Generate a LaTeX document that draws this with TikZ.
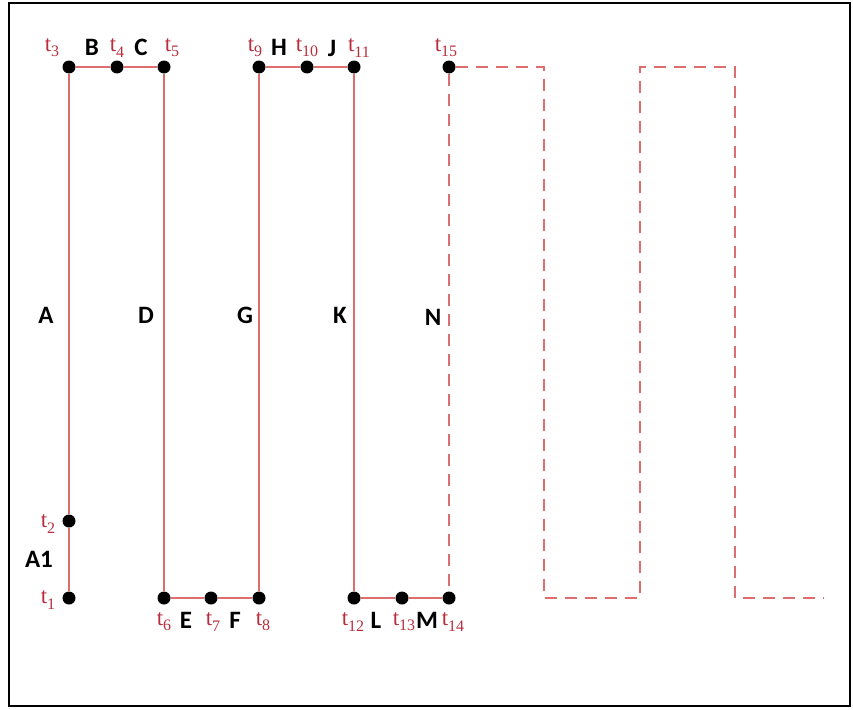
\documentclass[tikz,border=0pt]{standalone}
\usepackage{fontspec}
\setmainfont{Liberation Serif}
\newfontfamily\lblfont{Carlito}
\newcommand{\tsub}[1]{t\raisebox{-0.22em}{\fontsize{16}{16}\selectfont #1}}
\begin{document}
\begin{tikzpicture}[x=1pt,y=-1pt,
  dot/.style={circle,fill=black,inner sep=0pt,minimum size=13pt},
  wire/.style={draw={rgb,255:red,222;green,110;blue,110},line width=1.4pt},
  dwire/.style={wire,dash pattern=on 12pt off 8pt},
  tlbl/.style={text={rgb,255:red,185;green,45;blue,60},font=\fontsize{23}{23}\selectfont,inner sep=0pt},
  seg/.style={font=\lblfont\bfseries\fontsize{25}{25}\selectfont,inner sep=0pt}]
\useasboundingbox (0,0) rectangle (853,709);
\draw[line width=2pt] (9,3) rectangle (850,706);
% dots
\node[dot] (t1) at (69,598) {};
\node[dot] (t2) at (69,521) {};
\node[dot] (t3) at (69,67) {};
\node[dot] (t4) at (117,67) {};
\node[dot] (t5) at (164,67) {};
\node[dot] (t6) at (164,598) {};
\node[dot] (t7) at (211,598) {};
\node[dot] (t8) at (259,598) {};
\node[dot] (t9) at (259,67) {};
\node[dot] (t10) at (307,67) {};
\node[dot] (t11) at (354,67) {};
\node[dot] (t12) at (354,598) {};
\node[dot] (t13) at (402,598) {};
\node[dot] (t14) at (449,598) {};
\node[dot] (t15) at (449,67) {};
% solid path
\draw[wire] (t1) -- (t2) -- (t3) -- (t4) -- (t5) -- (t6) -- (t7) -- (t8) -- (t9) -- (t10) -- (t11) -- (t12) -- (t13) -- (t14);
% dashed waveform
\coordinate (p1) at (544,67);
\coordinate (p2) at (544,598);
\coordinate (p3) at (640,598);
\coordinate (p4) at (640,67);
\coordinate (p5) at (735,67);
\coordinate (p6) at (735,598);
\coordinate (p7) at (824,598);
\draw[dwire] (t15) -- (t14);
\draw[dwire] (t15) -- (p1) -- (p2) -- (p3) -- (p4) -- (p5) -- (p6) -- (p7);
% time labels
\node[tlbl] (l3) at (52,48) {\tsub{3}};
\node[tlbl] (l4) at (117,48) {\tsub{4}};
\node[tlbl] (l5) at (172,48) {\tsub{5}};
\node[tlbl] (l9) at (255,48) {\tsub{9}};
\node[tlbl] (l10) at (307,48) {\tsub{10}};
\node[tlbl] (l11) at (359,48) {\tsub{11}};
\node[tlbl] (l15) at (446,48) {\tsub{15}};
\node[tlbl] (l2) at (48,524) {\tsub{2}};
\node[tlbl] (l1) at (48,600) {\tsub{1}};
\node[tlbl] (l6) at (164,622) {\tsub{6}};
\node[tlbl] (l7) at (213,622) {\tsub{7}};
\node[tlbl] (l8) at (263,622) {\tsub{8}};
\node[tlbl] (l12) at (353,622) {\tsub{12}};
\node[tlbl] (l13) at (404,622) {\tsub{13}};
\node[tlbl] (l14) at (453,622) {\tsub{14}};
% segment labels
\node[seg] (B) at (92,47) {B};
\node[seg] (C) at (141,47) {C};
\node[seg] (H) at (279,47) {H};
\node[seg] (J) at (332,48) {J};
\node[seg] (A) at (46,315) {A};
\node[seg] (D) at (146,315) {D};
\node[seg] (G) at (245,315) {G};
\node[seg] (K) at (340,315) {K};
\node[seg] (N) at (433,317) {N};
\node[seg] (A1) at (39,559) {A1};
\node[seg] (E) at (186,620) {E};
\node[seg] (F) at (235,620) {F};
\node[seg] (L) at (376,620) {L};
\node[seg] (M) at (427,620) {M};
\end{tikzpicture}
\end{document}
